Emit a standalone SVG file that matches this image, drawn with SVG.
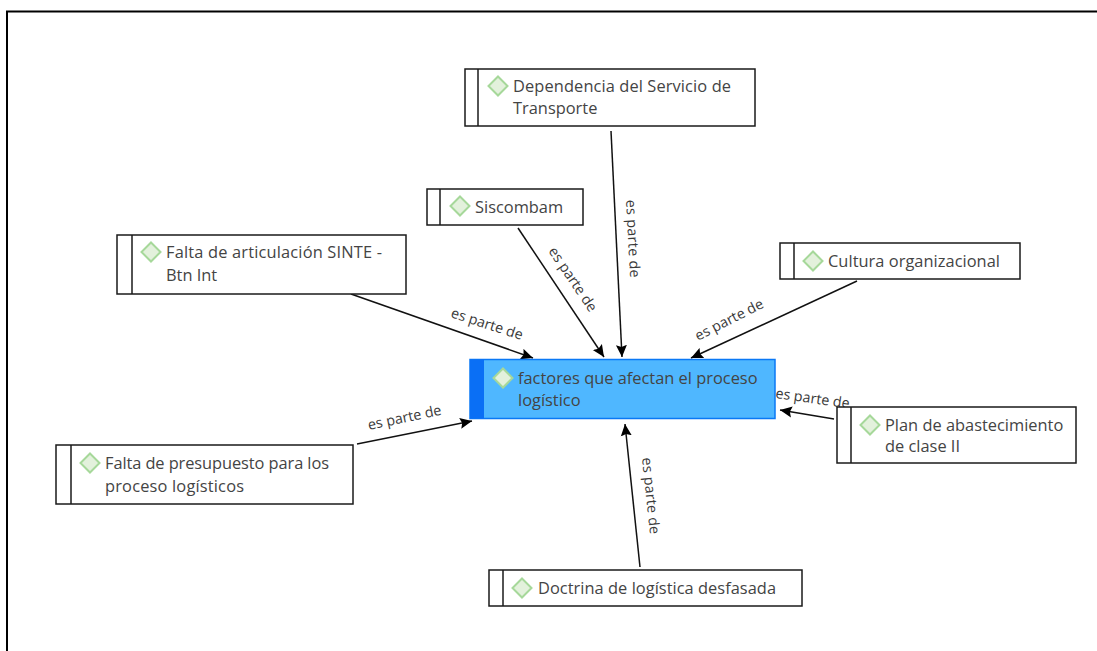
<svg xmlns="http://www.w3.org/2000/svg" width="1097" height="651" viewBox="0 0 1097 651">
<defs>
<marker id="arr" markerUnits="userSpaceOnUse" markerWidth="14" markerHeight="12" refX="12" refY="6" orient="auto"><path d="M0 0.500L12 6L0 11.500L2 6Z" fill="#000"/></marker>
<symbol id="dia" overflow="visible"><path d="M0 -9.500L9.500 0L0 9.500L-9.500 0Z" fill="#e3f1dc" stroke="#a6d89a" stroke-width="2"/></symbol>
</defs>
<style>
.box{fill:#fff;stroke:#1a1a1a;stroke-width:1.5}
.t{font:16.4px "Open Sans","Noto Sans",sans-serif;fill:#444}
.l{font:14.3px "Open Sans","Noto Sans",sans-serif;fill:#3a3a3a}
.c{stroke:#111;stroke-width:1.5;fill:none;marker-end:url(#arr)}
</style>
<rect width="1097" height="651" fill="#fff"/>
<path d="M7 651V11.500H1097" fill="none" stroke="#000" stroke-width="2"/>
<g id="connectors">
<path class="c" d="M351 294L533 358"/>
<path class="c" d="M518 228L604 357"/>
<path class="c" d="M611 131L622 357"/>
<path class="c" d="M857 281L691 358"/>
<path class="c" d="M834 419L780 410"/>
<path class="c" d="M640 567L625 424"/>
<path class="c" d="M357 444L472 421"/>
<text class="l" transform="translate(450 317) rotate(18)">es parte de</text>
<text class="l" transform="translate(548 251) rotate(56)">es parte de</text>
<text class="l" transform="translate(626 200) rotate(87)" textLength="78">es parte de</text>
<text class="l" transform="translate(698 341) rotate(-27)">es parte de</text>
<text class="l" transform="translate(775 398) rotate(8)">es parte de</text>
<text class="l" transform="translate(642 458) rotate(84)" textLength="77">es parte de</text>
<text class="l" transform="translate(369 430) rotate(-12)">es parte de</text>
</g>
<g id="n-dependencia"><rect class="box" x="465" y="69" width="290" height="57"/><path class="box" d="M478 69V126"/><use href="#dia" x="498" y="86"/><text class="t" x="513" y="92" textLength="218">Dependencia del Servicio de</text><text class="t" x="513" y="114">Transporte</text></g>
<g id="n-siscombam"><rect class="box" x="427" y="189" width="156" height="36"/><path class="box" d="M440 189V225"/><use href="#dia" x="460" y="206"/><text class="t" x="475" y="213">Siscombam</text></g>
<g id="n-falta-art"><rect class="box" x="117" y="235" width="289" height="59"/><path class="box" d="M132 235V294"/><use href="#dia" x="151" y="252"/><text class="t" x="166" y="258" textLength="216">Falta de articulación SINTE -</text><text class="t" x="166" y="281">Btn Int</text></g>
<g id="n-cultura"><rect class="box" x="780" y="243" width="240" height="36"/><path class="box" d="M794 243V279"/><use href="#dia" x="813" y="261"/><text class="t" x="828" y="267" textLength="172">Cultura organizacional</text></g>
<g id="n-factores"><rect x="470" y="359.500" width="305" height="59" fill="#4fb7ff" stroke="#0a78f5" stroke-width="1.500"/><rect x="470" y="359.500" width="14" height="59" fill="#0a6ff5"/><use href="#dia" x="503" y="378"/><text class="t" x="518" y="384">factores que afectan el proceso</text><text class="t" x="518" y="406">logístico</text></g>
<g id="n-plan"><rect class="box" x="837" y="407" width="239" height="56"/><path class="box" d="M851 407V463"/><use href="#dia" x="870" y="425"/><text class="t" x="885" y="431">Plan de abastecimiento</text><text class="t" x="885" y="452">de clase II</text></g>
<g id="n-presupuesto"><rect class="box" x="56" y="445" width="297" height="59"/><path class="box" d="M71 445V504"/><use href="#dia" x="90" y="463"/><text class="t" x="105" y="469" textLength="224">Falta de presupuesto para los</text><text class="t" x="105" y="492" textLength="139">proceso logísticos</text></g>
<g id="n-doctrina"><rect class="box" x="489" y="570" width="313" height="36"/><path class="box" d="M503 570V606"/><use href="#dia" x="522" y="588"/><text class="t" x="538" y="594" textLength="238">Doctrina de logística desfasada</text></g>
</svg>
